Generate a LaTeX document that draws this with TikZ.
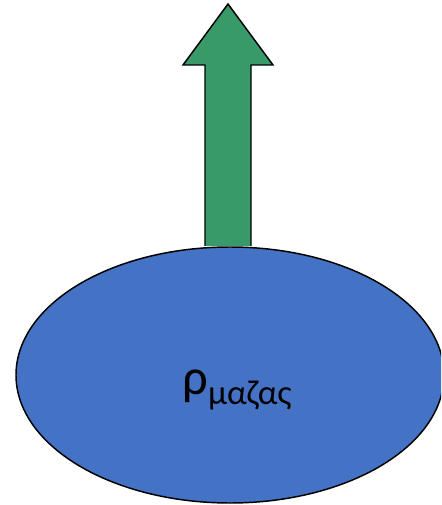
\documentclass[tikz,border=0pt]{standalone}
\usepackage{fontspec}
\setmainfont{Carlito}
\usetikzlibrary{positioning}
\definecolor{massblue}{RGB}{68,114,196}
\definecolor{liftgreen}{RGB}{56,154,104}

\begin{document}
\begin{tikzpicture}[x=0.75pt, y=-0.75pt, line width=1.1pt]
    \useasboundingbox (0,0) rectangle (441,505);
    \clip (0,0) rectangle (441,505);

    % arrow
    \draw[fill=liftgreen, line join=miter] (205,246) -- (205,65) -- (183,65) -- (228,4)
        -- (273,65) -- (251,65) -- (251,246);

    % mass
    \coordinate (mass) at (230,375);
    \draw[fill=massblue] (mass) ellipse [x radius=214, y radius=128];
    \node[font=\fontsize{38}{38}\selectfont, anchor=base, inner sep=0] (rho) at (237,394)
        {ρ\raisebox{-8pt}{\fontsize{26}{26}\selectfont μαζας}};
  \end{tikzpicture}
\end{document}
